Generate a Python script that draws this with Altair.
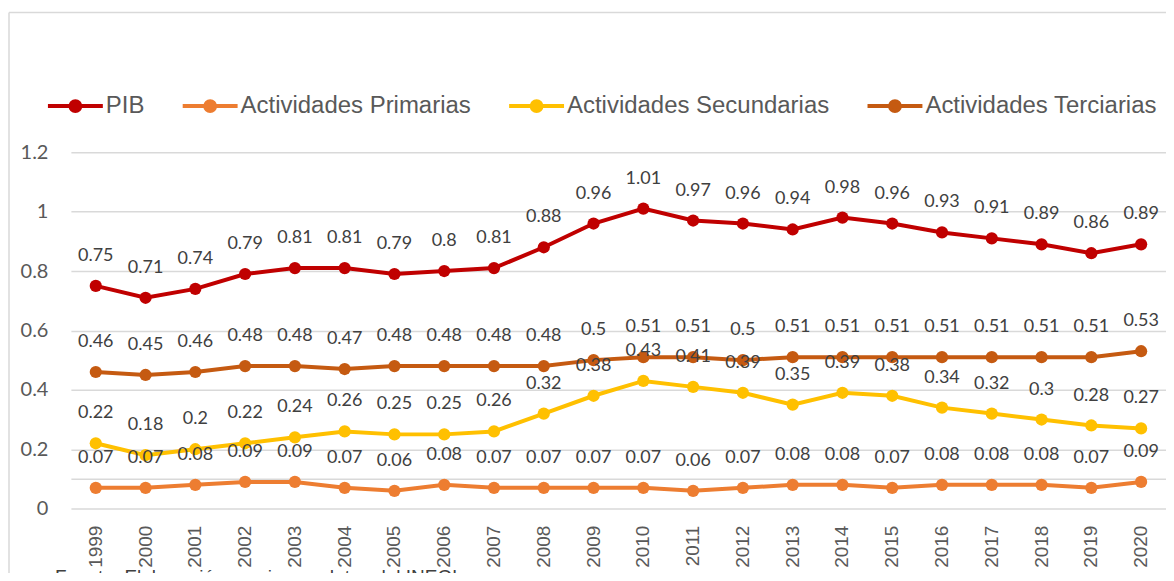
import altair as alt
import pandas as pd

years = [str(y) for y in range(1999, 2021)]
series_names = ["PIB", "Actividades Primarias", "Actividades Secundarias", "Actividades Terciarias"]
colors = ["#C00000", "#ED7D31", "#FFC000", "#C55A11"]

pib = [0.75, 0.71, 0.74, 0.79, 0.81, 0.81, 0.79, 0.8, 0.81, 0.88, 0.96, 1.01,
       0.97, 0.96, 0.94, 0.98, 0.96, 0.93, 0.91, 0.89, 0.86, 0.89]
primarias = [0.07, 0.07, 0.08, 0.09, 0.09, 0.07, 0.06, 0.08, 0.07, 0.07, 0.07, 0.07,
             0.06, 0.07, 0.08, 0.08, 0.07, 0.08, 0.08, 0.08, 0.07, 0.09]
secundarias = [0.22, 0.18, 0.2, 0.22, 0.24, 0.26, 0.25, 0.25, 0.26, 0.32, 0.38, 0.43,
               0.41, 0.39, 0.35, 0.39, 0.38, 0.34, 0.32, 0.3, 0.28, 0.27]
terciarias = [0.46, 0.45, 0.46, 0.48, 0.48, 0.47, 0.48, 0.48, 0.48, 0.48, 0.5, 0.51,
              0.51, 0.5, 0.51, 0.51, 0.51, 0.51, 0.51, 0.51, 0.51, 0.53]
grid_values = [0, 0.1, 0.2, 0.4, 0.6, 0.8, 1.0, 1.2]
footer = "Fuente: Elaboración propia con datos del INEGI"

rows = []
for name, vals in zip(series_names, [pib, primarias, secundarias, terciarias]):
    for y, v in zip(years, vals):
        rows.append({"Año": y, "Serie": name, "Valor": v, "Etiqueta": f"{v:g}"})
df = pd.DataFrame(rows)
df_years = pd.DataFrame({"Año": years})

W, H = 1097, 357

color = alt.Color(
    "Serie:N",
    scale=alt.Scale(domain=series_names, range=colors),
    legend=alt.Legend(
        title=None, orient="none", direction="horizontal", columns=4,
        legendX=-25, legendY=-76,
        symbolType="M-1,0L1,0M-0.18,0A0.18,0.18,0,1,1,0.18,0A0.18,0.18,0,1,1,-0.18,0Z",
        symbolSize=3025, symbolStrokeWidth=4,
        labelFont="Liberation Sans", labelFontSize=24, labelColor="#595959",
        labelLimit=500, labelOffset=1, columnPadding=30,
    ),
)

xscale = alt.Scale(type="point", padding=0.5, domain=years)
x = alt.X("Año:N", sort=years, scale=xscale, axis=None)
y = alt.Y("Valor:Q", scale=alt.Scale(domain=[0, 1.2], nice=False),
          axis=alt.Axis(title=None, values=grid_values, format="~g",
                        labelExpr="datum.value == 0.1 ? '' : datum.label",
                        labelFont="Lato", labelFontSize=20, labelColor="#595959",
                        domain=False, ticks=False, labelPadding=23, grid=True,
                        gridColor="#D9D9D9", gridWidth=1.5))

base = alt.Chart(df)

lines = base.mark_line(strokeWidth=4).encode(x=x, y=y, color=color, detail="Serie:N")
points = base.mark_point(filled=True, size=150, opacity=1).encode(
    x=x, y=y, color=alt.Color("Serie:N", scale=alt.Scale(domain=series_names, range=colors), legend=None))
labels = base.mark_text(dy=-30, font="Lato", fontSize=18, color="#404040").encode(
    x=x, y=y, text="Etiqueta:N")

year_labels = alt.Chart(df_years).mark_text(
    angle=270, align="right", baseline="middle", font="Liberation Sans",
    fontSize=19, color="#595959").encode(
    x=x, y=alt.value(H + 17), text="Año:N")

one = pd.DataFrame({"f": [0]})
frame_top = alt.Chart(one).mark_rule(color="#D9D9D9", strokeWidth=1.5).encode(
    x=alt.value(-62), x2=alt.value(W + 30), y=alt.value(-140))
frame_left = alt.Chart(one).mark_rule(color="#D9D9D9", strokeWidth=1.5).encode(
    x=alt.value(-62), y=alt.value(-140), y2=alt.value(H + 200))

foot = alt.Chart(pd.DataFrame({"t": [footer]})).mark_text(
    align="left", baseline="top", font="Liberation Sans", fontSize=19, color="#404040").encode(
    x=alt.value(-16), y=alt.value(H + 60), text="t:N")

chart = alt.layer(frame_top, frame_left, lines, points, labels, year_labels, foot).properties(
    width=W, height=H,
    background="white",
    autosize=alt.AutoSizeParams(type="none"),
    padding={"left": 63, "top": 144, "right": 0, "bottom": 64},
).configure_axisX(grid=False, gridOpacity=0).configure_view(stroke=None, strokeWidth=0)

chart.save("out.html", embed_options={"renderer": "svg", "actions": False})
